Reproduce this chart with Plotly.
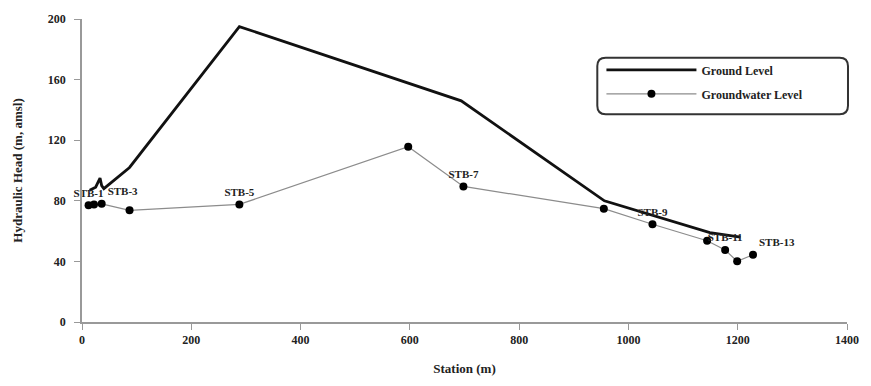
import plotly.graph_objects as go

# Ground level profile
ground_station = [14, 25, 33, 36, 40, 87, 288, 694, 956, 1149, 1205]
ground_level = [87, 89, 95, 90, 88, 102, 195, 146, 80, 59, 56]

# Groundwater level at wells
well_names = ["STB-1", "STB-2", "STB-3", "STB-4", "STB-5", "STB-6", "STB-7",
              "STB-8", "STB-9", "STB-10", "STB-11", "STB-12", "STB-13"]
well_station = [12, 22, 36, 87, 288, 597, 698, 955, 1044, 1144, 1177, 1199, 1228]
well_head = [77, 77.5, 78, 73.7, 77.6, 115.7, 89.5, 74.8, 64.5, 53.6, 47.5, 40.1, 44.4]
labeled_wells = ["STB-1", "STB-3", "STB-5", "STB-7", "STB-9", "STB-11", "STB-13"]

x_ticks = [0, 200, 400, 600, 800, 1000, 1200, 1400]
y_ticks = [0, 40, 80, 120, 160, 200]

font_family = "Liberation Serif, Times New Roman, serif"

labels = [n if n in labeled_wells else "" for n in well_names]
positions = ["top right" if n in ("STB-3", "STB-13") else "top center" for n in well_names]

fig = go.Figure()
fig.add_trace(go.Scatter(
    x=ground_station, y=ground_level, mode="lines", name="Ground Level",
    legendgroup="g1",
    line=dict(color="#111", width=2.8),
))
fig.add_trace(go.Scatter(
    x=well_station, y=well_head, mode="lines+markers+text", name="Groundwater Level",
    legendgroup="g2", cliponaxis=False,
    line=dict(color="#8c8c8c", width=1.2),
    marker=dict(color="black", size=8),
    text=labels, textposition=positions,
    textfont=dict(family=font_family, size=11, color="#222", weight="bold"),
))

# Rounded legend frame (paper coordinates)
x0, x1 = 0.6736, 1.0013
y0, y1 = 0.686, 0.8725
rx, ry = 0.011, 0.028
path = (f"M {x0+rx},{y1} L {x1-rx},{y1} Q {x1},{y1} {x1},{y1-ry} "
        f"L {x1},{y0+ry} Q {x1},{y0} {x1-rx},{y0} L {x0+rx},{y0} "
        f"Q {x0},{y0} {x0},{y0+ry} L {x0},{y1-ry} Q {x0},{y1} {x0+rx},{y1} Z")

fig.update_layout(
    width=871, height=386,
    margin=dict(l=82, r=20, t=16, b=64),
    paper_bgcolor="white", plot_bgcolor="white",
    font=dict(family=font_family, size=12, color="#222"),
    showlegend=True,
    shapes=[dict(type="path", path=path, xref="paper", yref="paper",
                 line=dict(color="#333", width=2), fillcolor="rgba(0,0,0,0)",
                 layer="above")],
    legend=dict(
        x=0.679, y=0.88, xanchor="left", yanchor="top",
        borderwidth=0, bgcolor="rgba(0,0,0,0)",
        font=dict(family=font_family, size=12, color="#222", weight="bold"),
        traceorder="grouped", tracegroupgap=5, itemwidth=90,
    ),
    xaxis=dict(
        range=[0, 1400], tickvals=x_ticks, showgrid=False, zeroline=False,
        showline=True, linecolor="#999", linewidth=1.5,
        ticks="outside", tickcolor="#999", ticklen=6,
        tickfont=dict(family=font_family, size=12, color="#222", weight="bold"),
        title=dict(text="Station (m)", font=dict(family=font_family, size=13, color="#222", weight="bold"), standoff=18),
    ),
    yaxis=dict(
        range=[0, 200], tickvals=y_ticks, showgrid=False, zeroline=False,
        showline=True, linecolor="#999", linewidth=1.5,
        ticks="outside", tickcolor="#999", ticklen=6, ticklabelstandoff=6,
        tickfont=dict(family=font_family, size=12, color="#222", weight="bold"),
        title=dict(text="Hydraulic Head (m, amsl)", font=dict(family=font_family, size=13, color="#222", weight="bold"), standoff=22),
    ),
)

fig.write_html("out.html")
